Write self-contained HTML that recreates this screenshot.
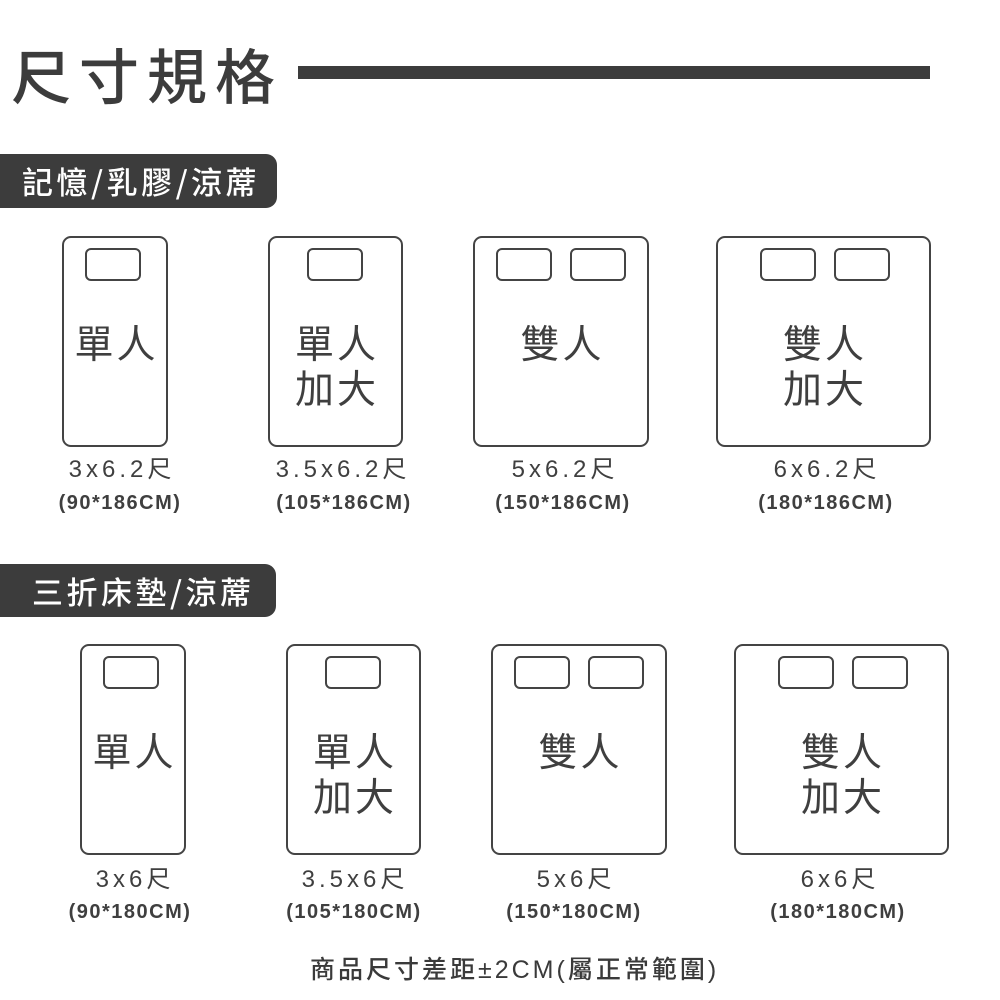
<!DOCTYPE html>
<html><head><meta charset="utf-8"><style>
body{margin:0;width:1000px;height:1000px;background:#fff;position:relative;overflow:hidden;font-family:"Liberation Sans","Noto Sans CJK TC",sans-serif;color:#3f3f3f}
.a{position:absolute}
.bed{position:absolute;border:2px solid #444;border-radius:9px;box-sizing:border-box}
.pl{position:absolute;border:2px solid #444;border-radius:6px;box-sizing:border-box;width:56px;height:33px}
.lbl{position:absolute;text-align:center;font-size:39px;line-height:45px;letter-spacing:3px;white-space:nowrap;font-family:"Noto Sans CJK TC",sans-serif;font-weight:400;padding-left:3px;box-sizing:border-box}
.d1{position:absolute;text-align:center;font-size:24px;letter-spacing:4px;white-space:nowrap;font-family:"Liberation Sans","Noto Sans CJK TC",sans-serif;line-height:26px}
.d2{position:absolute;text-align:center;font-size:20px;font-weight:bold;letter-spacing:1.5px;white-space:nowrap;line-height:22px}
.tag{position:absolute;left:0;background:#3c3c3c;border-radius:0 11px 11px 0;color:#fff;font-family:"Noto Sans CJK TC",sans-serif;font-size:31px;font-weight:500;line-height:54px;letter-spacing:3.5px;white-space:nowrap}
</style></head><body>
<div class="a" style="left:11px;top:34px;font-size:60px;line-height:80px;letter-spacing:8px;font-family:'Noto Sans CJK TC',sans-serif;font-weight:500;color:#3c3c3c">尺寸規格</div>
<div class="a" style="left:298px;top:66px;width:632px;height:13px;background:#3c3c3c"></div>

<div class="tag" style="top:154px;width:277px;height:54px;padding-left:22px;box-sizing:border-box">記憶/乳膠/涼蓆</div>

<div class="bed" style="left:62px;top:236px;width:106px;height:211px"></div>
<div class="pl" style="left:85px;top:248px"></div>
<div class="lbl" style="left:62px;width:106px;top:320px">單人</div>

<div class="bed" style="left:268px;top:236px;width:135px;height:211px"></div>
<div class="pl" style="left:307px;top:248px"></div>
<div class="lbl" style="left:268px;width:135px;top:320px">單人<br>加大</div>

<div class="bed" style="left:473px;top:236px;width:176px;height:211px"></div>
<div class="pl" style="left:496px;top:248px"></div><div class="pl" style="left:570px;top:248px"></div>
<div class="lbl" style="left:473px;width:176px;top:320px">雙人</div>

<div class="bed" style="left:716px;top:236px;width:215px;height:211px"></div>
<div class="pl" style="left:760px;top:248px"></div><div class="pl" style="left:834px;top:248px"></div>
<div class="lbl" style="left:716px;width:215px;top:320px">雙人<br>加大</div>

<div class="d1" style="left:22px;width:200px;top:457px">3x6.2尺</div>
<div class="d2" style="left:20px;width:200px;top:492px">(90*186CM)</div>
<div class="d1" style="left:243px;width:200px;top:457px">3.5x6.2尺</div>
<div class="d2" style="left:244px;width:200px;top:492px">(105*186CM)</div>
<div class="d1" style="left:465px;width:200px;top:457px">5x6.2尺</div>
<div class="d2" style="left:463px;width:200px;top:492px">(150*186CM)</div>
<div class="d1" style="left:727px;width:200px;top:457px">6x6.2尺</div>
<div class="d2" style="left:726px;width:200px;top:492px">(180*186CM)</div>

<div class="tag" style="top:564px;width:276px;height:53px;padding-left:32px;box-sizing:border-box;line-height:53px">三折床墊/涼蓆</div>

<div class="bed" style="left:80px;top:644px;width:106px;height:211px"></div>
<div class="pl" style="left:103px;top:656px"></div>
<div class="lbl" style="left:80px;width:106px;top:728px">單人</div>

<div class="bed" style="left:286px;top:644px;width:135px;height:211px"></div>
<div class="pl" style="left:325px;top:656px"></div>
<div class="lbl" style="left:286px;width:135px;top:728px">單人<br>加大</div>

<div class="bed" style="left:491px;top:644px;width:176px;height:211px"></div>
<div class="pl" style="left:514px;top:656px"></div><div class="pl" style="left:588px;top:656px"></div>
<div class="lbl" style="left:491px;width:176px;top:728px">雙人</div>

<div class="bed" style="left:734px;top:644px;width:215px;height:211px"></div>
<div class="pl" style="left:778px;top:656px"></div><div class="pl" style="left:852px;top:656px"></div>
<div class="lbl" style="left:734px;width:215px;top:728px">雙人<br>加大</div>

<div class="d1" style="left:35px;width:200px;top:867px">3x6尺</div>
<div class="d2" style="left:30px;width:200px;top:901px">(90*180CM)</div>
<div class="d1" style="left:255px;width:200px;top:867px">3.5x6尺</div>
<div class="d2" style="left:254px;width:200px;top:901px">(105*180CM)</div>
<div class="d1" style="left:476px;width:200px;top:867px">5x6尺</div>
<div class="d2" style="left:474px;width:200px;top:901px">(150*180CM)</div>
<div class="d1" style="left:740px;width:200px;top:867px">6x6尺</div>
<div class="d2" style="left:738px;width:200px;top:901px">(180*180CM)</div>

<div class="a" style="left:310px;top:954px;font-size:25px;line-height:32px;letter-spacing:3px;white-space:nowrap;font-family:'Liberation Sans','Noto Sans CJK TC',sans-serif;font-weight:500;color:#3a3a3a">商品尺寸差距±2CM(屬正常範圍)</div>
</body></html>
